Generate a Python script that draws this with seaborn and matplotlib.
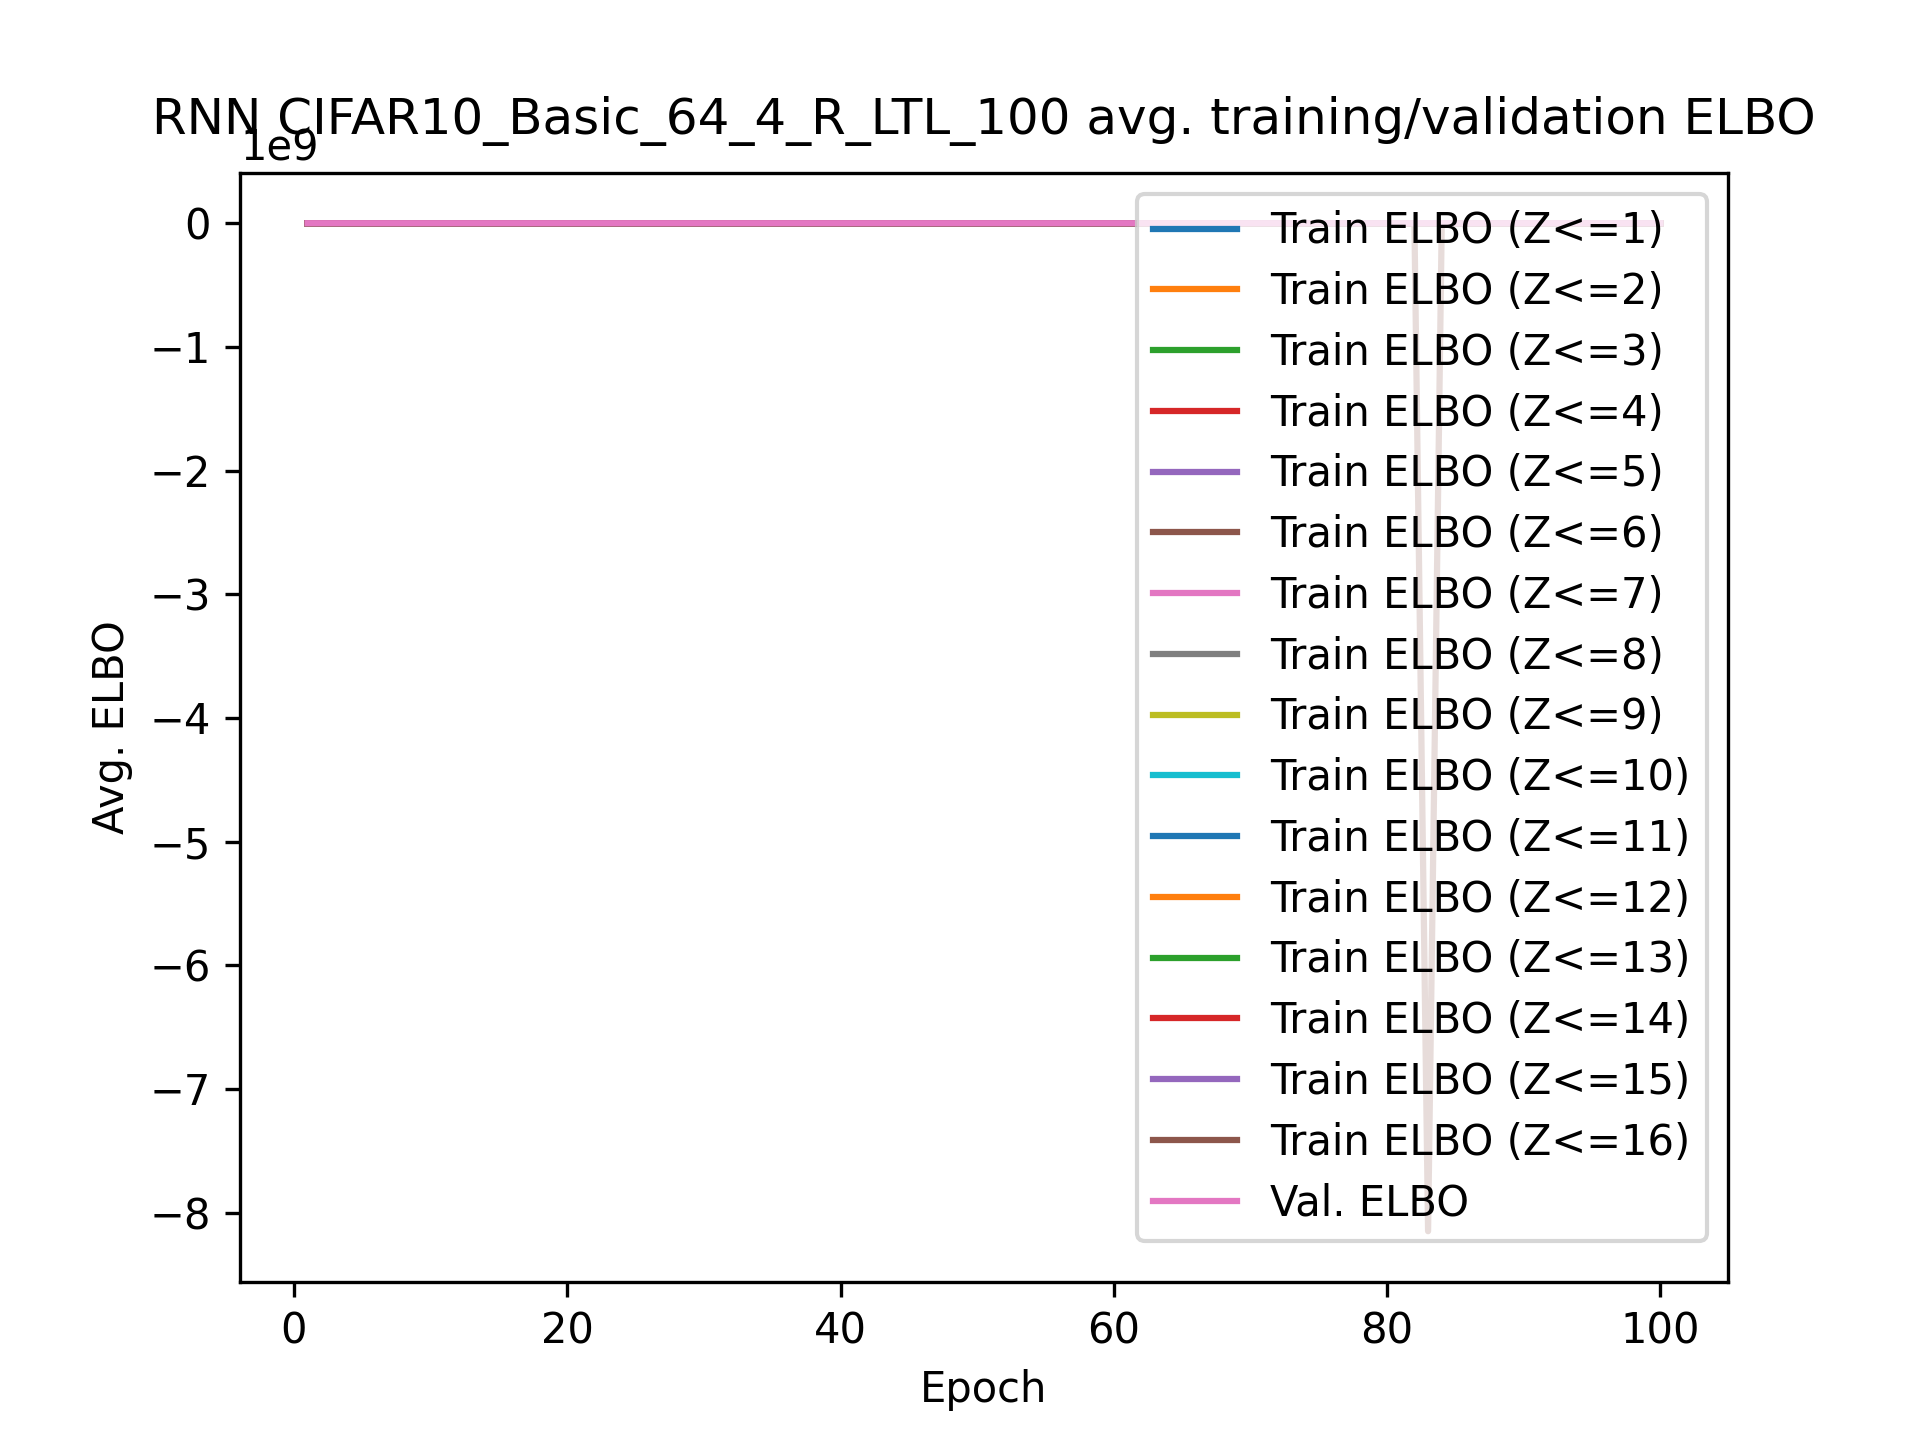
import numpy as np
import pandas as pd
import seaborn as sns
import matplotlib.pyplot as plt

epochs = list(range(1, 101))

# approximate per-epoch avg. ELBO (tiny compared to the spike, so essentially flat at 0)
base_elbo = [
    -9800, -7600, -6900, -6500, -6200, -6000, -5850, -5720, -5610, -5520,
    -5440, -5370, -5310, -5260, -5210, -5170, -5130, -5100, -5070, -5040,
    -5010, -4990, -4970, -4950, -4930, -4910, -4890, -4880, -4860, -4850,
    -4840, -4830, -4820, -4810, -4800, -4790, -4780, -4770, -4760, -4750,
    -4745, -4740, -4735, -4730, -4725, -4720, -4715, -4710, -4705, -4700,
    -4695, -4690, -4686, -4682, -4678, -4674, -4670, -4666, -4662, -4658,
    -4655, -4652, -4649, -4646, -4643, -4640, -4637, -4634, -4631, -4628,
    -4626, -4624, -4622, -4620, -4618, -4616, -4614, -4612, -4610, -4608,
    -4606, -4604, -4602, -4600, -4598, -4596, -4594, -4592, -4590, -4588,
    -4587, -4586, -4585, -4584, -4583, -4582, -4581, -4580, -4579, -4578,
]
spike_series = 16
spike_epoch = 83
spike_value = -8.15e9
val_elbo = [v + 40 for v in base_elbo]

plt.figure(figsize=(6.4, 4.8))
palette = plt.rcParams["axes.prop_cycle"].by_key()["color"]
for z in range(1, 17):
    vals = list(base_elbo)
    if z == spike_series:
        vals[spike_epoch - 1] = spike_value
    df = pd.DataFrame({"epoch": epochs, "elbo": vals})
    sns.lineplot(data=df, x="epoch", y="elbo", color=palette[(z - 1) % 10],
                 label=f"Train ELBO (Z<={z})")
df = pd.DataFrame({"epoch": epochs, "elbo": val_elbo})
sns.lineplot(data=df, x="epoch", y="elbo", color=palette[16 % 10], label="Val. ELBO")

# fixed y keeps the title overlapping the 1e9 offset text, as in the original
plt.title("RNN CIFAR10_Basic_64_4_R_LTL_100 avg. training/validation ELBO", y=1.012)
plt.xlabel("Epoch")
plt.ylabel("Avg. ELBO")
plt.legend(loc="upper right", labelspacing=0.45)
plt.savefig("out.png", dpi=300)
